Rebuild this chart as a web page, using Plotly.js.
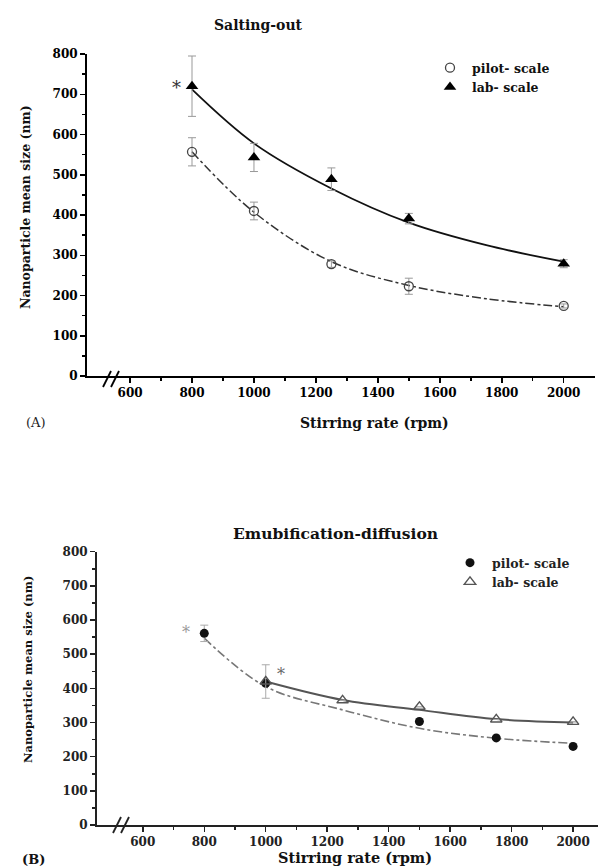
<!DOCTYPE html>
<html><head><meta charset="utf-8">
<script src="https://cdn.plot.ly/plotly-3.0.1.min.js"></script>
<style>html,body{margin:0;padding:0;background:#fff}</style>
</head><body>
<div id="chart" style="width:598px;height:867px"></div>
<script>
// ---------- Panel A: Salting-out ----------
const rpmA = [800, 1000, 1250, 1500, 2000];
const pilotA = [557, 410, 278, 223, 174];
const pilotAErr = [35, 22, 8, 20, 5];
const labA = [720, 543, 489, 391, 279];
const labAErr = [75, 35, 28, 13, 10];
const fitRpmA = [800, 1000, 1250, 1500, 1750, 2000];
const fitPilotA = [557, 407, 284, 225, 192, 172];
const fitLabA = [712, 578, 466, 381, 325, 284];

// ---------- Panel B: Emubification-diffusion ----------
const rpmPilotB = [800, 1000, 1500, 1750, 2000];
const pilotB = [561, 415, 303, 255, 230];
const pilotBErr = [24, 0, 0, 0, 0];
const rpmLabB = [1000, 1250, 1500, 1750, 2000];
const labB = [420, 365, 346, 309, 302];
const labBErr = [49, 0, 0, 0, 0];
const fitRpmPilotB = [800, 1000, 1250, 1500, 1750, 2000];
const fitPilotB = [547, 405, 337, 283, 254, 239];
const fitRpmLabB = [1000, 1250, 1500, 1750, 2000];
const fitLabB = [420, 366, 337, 310, 300];

const xTicks = [600, 800, 1000, 1200, 1400, 1600, 1800, 2000];
const xMinor = [700, 900, 1100, 1300, 1500, 1700, 1900];
const yTicks = [0, 100, 200, 300, 400, 500, 600, 700, 800];
const yMinor = [50, 150, 250, 350, 450, 550, 650, 750];

const FONT = 'DejaVu Serif, Liberation Serif, serif';
const W = 598, H = 867;
const px = v => v / W, py = v => 1 - v / H;

const traces = [
  // Panel A fits
  {x: fitRpmA, y: fitLabA, xaxis: 'x', yaxis: 'y', mode: 'lines', line: {color: '#111', width: 1.8, shape: 'spline'}, showlegend: false, hoverinfo: 'skip'},
  {x: fitRpmA, y: fitPilotA, xaxis: 'x', yaxis: 'y', mode: 'lines', line: {color: '#333', width: 1.5, dash: 'dashdot', shape: 'spline'}, showlegend: false, hoverinfo: 'skip'},
  // Panel A data
  {x: rpmA, y: pilotA, xaxis: 'x', yaxis: 'y', mode: 'markers', name: 'pilot- scale', legend: 'legend',
   marker: {symbol: 'circle-open', size: 9, color: '#444', line: {width: 1.3}},
   error_y: {type: 'data', array: pilotAErr, visible: true, color: '#999', thickness: 1, width: 4}},
  {x: rpmA, y: labA, xaxis: 'x', yaxis: 'y', mode: 'markers', name: 'lab- scale', legend: 'legend',
   marker: {symbol: 'triangle-up', size: 11, color: '#000'},
   error_y: {type: 'data', array: labAErr, visible: true, color: '#999', thickness: 1, width: 4}},
  // Panel B fits
  {x: fitRpmLabB, y: fitLabB, xaxis: 'x2', yaxis: 'y2', mode: 'lines', line: {color: '#555', width: 2, shape: 'spline'}, showlegend: false, hoverinfo: 'skip'},
  {x: fitRpmPilotB, y: fitPilotB, xaxis: 'x2', yaxis: 'y2', mode: 'lines', line: {color: '#777', width: 1.6, dash: 'dashdot', shape: 'spline'}, showlegend: false, hoverinfo: 'skip'},
  // Panel B data
  {x: rpmPilotB, y: pilotB, xaxis: 'x2', yaxis: 'y2', mode: 'markers', name: 'pilot- scale', legend: 'legend2',
   marker: {symbol: 'circle', size: 9, color: '#111'},
   error_y: {type: 'data', array: pilotBErr, visible: true, color: '#aaa', thickness: 1, width: 4}},
  {x: rpmLabB, y: labB, xaxis: 'x2', yaxis: 'y2', mode: 'markers', name: 'lab- scale', legend: 'legend2',
   marker: {symbol: 'triangle-up-open', size: 10, color: '#555', line: {width: 1.4}},
   error_y: {type: 'data', array: labBErr, visible: true, color: '#aaa', thickness: 1, width: 4}}
];

function xAxis(domain, range, color) {
  return {domain: domain, range: range, showgrid: false, zeroline: false, showline: true, linecolor: color, linewidth: 2,
    tickmode: 'array', tickvals: xTicks, ticks: 'outside', ticklen: 5, tickwidth: 1.5, tickcolor: color,
    tickfont: {family: FONT, size: 12, color: color, weight: 'bold'},
    minor: {tickmode: 'array', tickvals: xMinor, ticks: 'outside', ticklen: 3, tickwidth: 1.5, tickcolor: color, showgrid: false}};
}
function yAxis(domain, color) {
  return {domain: domain, range: [0, 800], showgrid: false, zeroline: false, showline: true, linecolor: color, linewidth: 2,
    tickmode: 'array', tickvals: yTicks, ticks: 'outside', ticklen: 5, tickwidth: 1.5, tickcolor: color,
    tickfont: {family: FONT, size: 12, color: color, weight: 'bold'},
    minor: {tickmode: 'array', tickvals: yMinor, ticks: 'outside', ticklen: 3, tickwidth: 1.5, tickcolor: color, showgrid: false}};
}

const xa = xAxis([px(87), px(595)], [461, 2101], '#000');
xa.anchor = 'y';
const ya = yAxis([py(376), py(54)], '#000');
ya.anchor = 'x';
const xb = xAxis([px(97), 1], [451, 2081], '#222');
xb.anchor = 'y2';
const yb = yAxis([py(825), py(551.7)], '#222');
yb.anchor = 'x2';

function ann(text, x, y, size, opts) {
  return Object.assign({text: text, x: px(x), y: py(y), xref: 'paper', yref: 'paper', showarrow: false,
    xanchor: 'center', yanchor: 'middle', font: {family: FONT, size: size, color: '#111', weight: 'bold'}}, opts || {});
}

const annotations = [
  ann('Salting-out', 258, 25, 14),
  ann('Nanoparticle mean size (nm)', 25, 207, 12.5, {textangle: -90}),
  ann('Stirring rate (rpm)', 374, 423, 14),
  ann('(A)', 36, 423, 13, {font: {family: FONT, size: 13, color: '#222'}}),
  {text: '*', x: 749, y: 716, xref: 'x', yref: 'y', showarrow: false, font: {family: FONT, size: 18, color: '#333'}},
  ann('Emubification-diffusion', 335, 533, 15.5),
  ann('Nanoparticle mean size (nm)', 28, 670, 11.5, {textangle: -90}),
  ann('Stirring rate (rpm)', 355, 857, 14.5),
  ann('(B)', 33, 859, 13),
  {text: '*', x: 740, y: 563, xref: 'x2', yref: 'y2', showarrow: false, font: {family: FONT, size: 16, color: '#999'}},
  {text: '*', x: 1051, y: 442, xref: 'x2', yref: 'y2', showarrow: false, font: {family: FONT, size: 16, color: '#666'}}
];

function brk(x0, y0, color) {
  return [
    {type: 'line', xref: 'paper', yref: 'paper', x0: px(x0), y0: py(y0 + 8), x1: px(x0 + 8), y1: py(y0 - 8), line: {color: color, width: 1.8}},
    {type: 'line', xref: 'paper', yref: 'paper', x0: px(x0 + 8), y0: py(y0 + 8), x1: px(x0 + 16), y1: py(y0 - 8), line: {color: color, width: 1.8}}
  ];
}

const layout = {
  width: W, height: H, margin: {l: 0, r: 0, t: 0, b: 0}, paper_bgcolor: '#fff', plot_bgcolor: 'rgba(0,0,0,0)',
  xaxis: xa, yaxis: ya, xaxis2: xb, yaxis2: yb,
  showlegend: true,
  legend: {x: px(428), y: py(53), xanchor: 'left', yanchor: 'top', bgcolor: 'rgba(0,0,0,0)', itemwidth: 34,
    font: {family: FONT, size: 12.5, color: '#111', weight: 'bold'}, tracegroupgap: 0},
  legend2: {x: px(448), y: py(548), xanchor: 'left', yanchor: 'top', bgcolor: 'rgba(0,0,0,0)', itemwidth: 34,
    font: {family: FONT, size: 12.5, color: '#222', weight: 'bold'}, tracegroupgap: 0},
  annotations: annotations,
  shapes: brk(103, 379, '#000').concat(brk(113, 825, '#222'))
};

Plotly.newPlot('chart', traces, layout, {displayModeBar: false, staticPlot: true});
</script>
</body></html>
